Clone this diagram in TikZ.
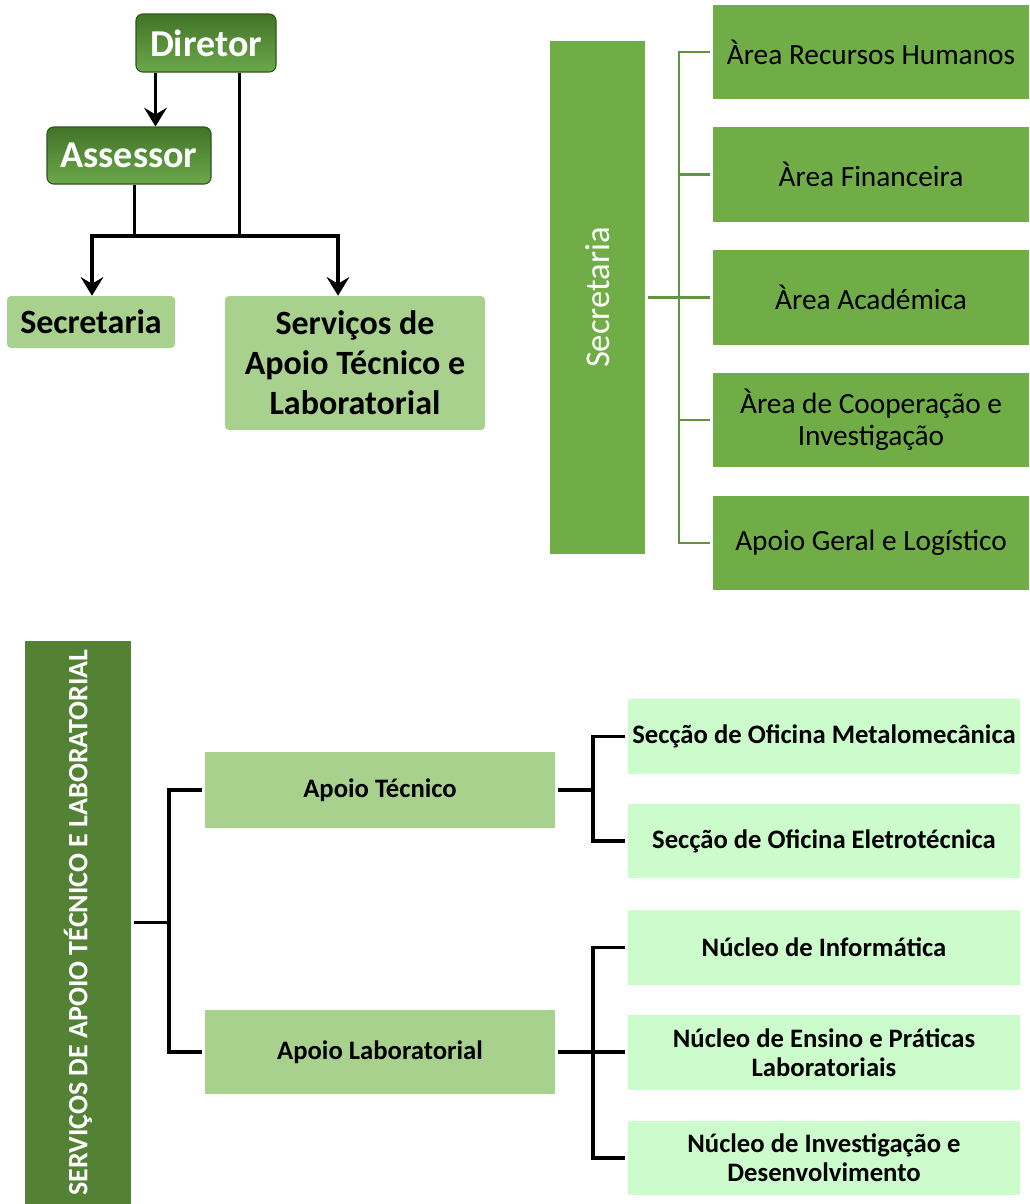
\documentclass[tikz,border=0pt]{standalone}
\usepackage{fontspec}
\setmainfont{Carlito}
\usetikzlibrary{arrows.meta,calc}
\definecolor{dkgreen}{RGB}{84,130,53}
\definecolor{midgreen}{RGB}{112,173,71}
\definecolor{ltgreen}{RGB}{169,209,142}
\definecolor{pale}{RGB}{204,252,204}
\definecolor{lnk}{RGB}{96,148,64}
\definecolor{bordgr}{RGB}{45,85,25}
\definecolor{topg}{RGB}{66,116,40}
\definecolor{botg}{RGB}{108,168,74}
\tikzset{
  boss/.style={draw=bordgr, line width=0.8pt, rounded corners=5pt, top color=topg, bottom color=botg,
    text=white, font=\fontsize{28.5}{32}\selectfont\bfseries, inner sep=0pt},
  light/.style={fill=ltgreen, rounded corners=3pt, font=\fontsize{25.5}{30}\selectfont\bfseries, align=center, inner sep=0pt},
  area/.style={fill=midgreen, minimum width=237pt, minimum height=71pt, font=\fontsize{22}{24}\selectfont, align=center, inner sep=0pt},
  vbar/.style={fill=midgreen, rotate=90, text=white, font=\fontsize{26}{30}\selectfont, inner sep=0pt},
  vbar2/.style={fill=dkgreen, rotate=90, text=white, font=\fontsize{21}{24}\selectfont\bfseries, inner sep=0pt},
  sub/.style={fill=ltgreen, minimum width=262.5pt, font=\fontsize{20}{22}\selectfont\bfseries, inner sep=0pt},
  leaf/.style={fill=pale, minimum width=294pt, minimum height=56pt, font=\fontsize{20}{22}\selectfont\bfseries, align=center, inner sep=0pt},
  blk/.style={draw=black, line width=2.4pt},
  arr/.style={draw=black, line width=2.4pt, -{Stealth[length=14pt,width=17pt,inset=5pt]}},
  glink/.style={draw=lnk, line width=1.6pt},
}
\begin{document}
\begin{tikzpicture}[x=0.75pt,y=-0.75pt]
\useasboundingbox (0,0) rectangle (1029,1204);

% ---------- top-left org chart ----------
\node[boss, minimum width=105pt, minimum height=43.5pt] (dir) at (206,43) {Diretor};
\node[boss, minimum width=123pt, minimum height=42.75pt] (ass) at (129,155.5) {Assessor};
\node[light, minimum width=126pt, minimum height=39pt] (sec) at (91,322) {Secretaria};
\node[light, minimum width=195pt, minimum height=100.5pt] (serv) at (355,363)
  {Serviços de\\Apoio Técnico e\\Laboratorial};

\coordinate (jl) at (92,236);
\coordinate (jr) at (338,236);
\draw[arr] ([xshift=15pt]dir.south west) -- ([xshift=15pt]dir.south west |- ass.north);
\draw[blk] ([xshift=78pt]dir.south west) -- ([xshift=78pt]dir.south west |- jl);
\draw[blk] ([xshift=66pt]ass.south west) -- ([xshift=66pt]ass.south west |- jl);
\draw[blk, line cap=rect] (jl) -- (jr);
\draw[arr] (jl) -- (jl |- sec.north);
\draw[arr] (jr) -- (jr |- serv.north);

% ---------- Secretaria breakdown ----------
\node[vbar, minimum width=384.75pt, minimum height=71.25pt] (sbar) at (597.5,297.5) {Secretaria};
\node[area] (a1) at (871,52) {Àrea Recursos Humanos};
\node[area] (a2) at (871,174.5) {Àrea Financeira};
\node[area] (a3) at (871,297.5) {Àrea Académica};
\node[area] (a4) at (871,420) {Àrea de Cooperação e\\Investigação};
\node[area] (a5) at (871,543) {Apoio Geral e Logístico};

\draw[glink] ([xshift=2pt]sbar.south) -- ++(31,0) coordinate (gj);
\foreach \n in {a1,a2,a3,a4,a5}{
  \draw[glink] (gj) |- ([xshift=-2pt]\n.west);
}

% ---------- Serviços breakdown ----------
\node[vbar2, minimum width=422.25pt, minimum height=79.5pt] (bbar) at (78,922.5)
  {SERVIÇOS DE APOIO TÉCNICO E LABORATORIAL};
\node[sub, minimum height=57pt] (at) at (380,790) {Apoio Técnico};
\node[sub, minimum height=63pt] (al) at (380,1052) {Apoio Laboratorial};

\node[leaf] (s1) at (824,736.5) {Secção de Oficina Metalomecânica};
\node[leaf] (s2) at (824,841) {Secção de Oficina Eletrotécnica};
\node[leaf] (n1) at (824,947.5) {Núcleo de Informática};
\node[leaf] (n2) at (824,1052.5) {Núcleo de Ensino e Práticas\\Laboratoriais};
\node[leaf] (n3) at (824,1158) {Núcleo de Investigação e\\Desenvolvimento};

\draw[blk] ([xshift=2pt]bbar.south) -- ++(35,0) coordinate (j1);
\draw[blk] (j1) |- ([xshift=-2pt]at.west);
\draw[blk] (j1) |- ([xshift=-2pt]al.west);

\draw[blk] ([xshift=2pt]at.east) -- ++(35,0) coordinate (j2);
\draw[blk] (j2) |- ([xshift=-2pt]s1.west);
\draw[blk] (j2) |- ([xshift=-2pt]s2.west);

\draw[blk] ([xshift=2pt]al.east) -- ++(35,0) coordinate (j3);
\draw[blk] (j3) |- ([xshift=-2pt]n1.west);
\draw[blk] (j3) -- ([xshift=-2pt]n2.west |- j3);
\draw[blk] (j3) |- ([xshift=-2pt]n3.west);
\end{tikzpicture}
\end{document}
